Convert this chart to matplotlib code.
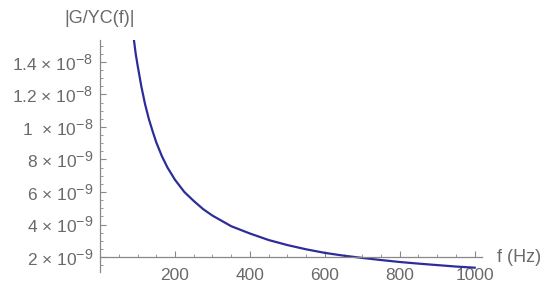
import matplotlib
matplotlib.use("Agg")
import matplotlib.pyplot as plt
from matplotlib.ticker import MultipleLocator, FuncFormatter
import matplotlib._mathtext as mt

# bigger exponents, like the reference
mt.SHRINK_FACTOR = 0.82

# values
freq = [90, 95, 100, 110, 120, 130, 140, 150, 165, 180, 200, 225, 250, 275, 300,
        350, 400, 450, 500, 550, 600, 650, 700, 750, 800, 850, 900, 950, 1000]
gyc = [15.4, 14.5, 13.8, 12.5, 11.4, 10.5, 9.75, 9.05, 8.2, 7.5, 6.75, 6.0, 5.45,
       4.95, 4.55, 3.9, 3.45, 3.05, 2.74, 2.48, 2.26, 2.09, 1.95, 1.82, 1.70,
       1.60, 1.51, 1.42, 1.35]
gyc = [v * 1e-9 for v in gyc]

xticks = [200, 400, 600, 800, 1000]
yticks = [2e-9, 4e-9, 6e-9, 8e-9, 1e-8, 1.2e-8, 1.4e-8]

plt.rcParams['font.family'] = ['Liberation Sans', 'DejaVu Sans']
plt.rcParams['mathtext.default'] = 'regular'
txt = '#6a6a6a'
axc = '#888888'

fig = plt.figure(figsize=(5.5, 2.91), dpi=100)
ax = fig.add_axes([0.182, 0.065, 0.694, 0.798])
ax.plot(freq, gyc, color='#2d2d9a', lw=1.6)

ax.set_xlim(0, 1019)
ax.set_ylim(1.08e-9, 1.535e-8)

for s in ['top', 'right']:
    ax.spines[s].set_visible(False)
ax.spines['left'].set_position(('data', 0))
ax.spines['bottom'].set_position(('data', 2e-9))
for s in ['left', 'bottom']:
    ax.spines[s].set_color(axc)
    ax.spines[s].set_linewidth(0.9)

def yfmt(v, pos):
    e = -8 if v >= 9.99e-9 else -9
    m = v / 10**e
    ms = ('%.1f' % m).rstrip('0').rstrip('.')
    if ms == '1':
        ms = '1 '
    return ms + ' \u00d7 10$^{%d}$' % e

ax.set_xticks(xticks)
ax.set_yticks(yticks)
ax.xaxis.set_minor_locator(MultipleLocator(50))
ax.yaxis.set_minor_locator(MultipleLocator(0.5e-9))
ax.yaxis.set_major_formatter(FuncFormatter(yfmt))
ax.tick_params(which='major', direction='in', length=4, width=0.8, color=axc,
               labelcolor=txt, labelsize=12.5)
ax.tick_params(which='minor', direction='in', length=2.2, width=0.6, color=axc)
ax.tick_params(axis='x', pad=8)
ax.tick_params(axis='y', pad=5)

fig.text(0.182, 0.938, '|G/YC(f)|', ha='center', va='center', color=txt, fontsize=13)
ax.text(1.04, 2e-9, 'f (Hz)', transform=ax.get_yaxis_transform(), ha='left', va='center',
        color=txt, fontsize=13)

fig.savefig('out.png', dpi=100)
